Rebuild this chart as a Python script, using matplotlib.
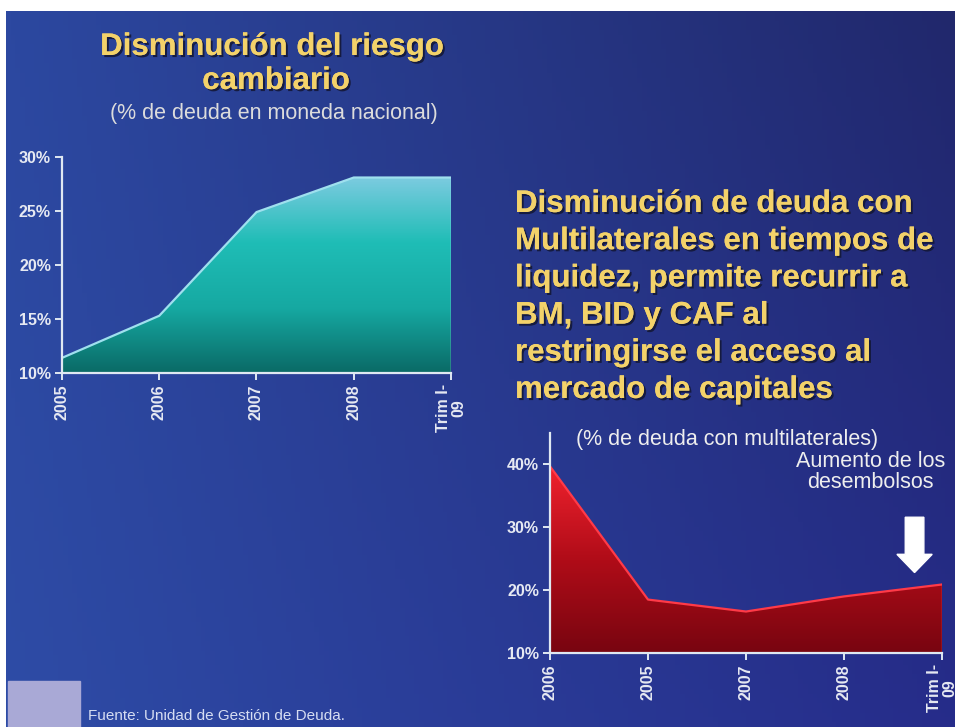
import numpy as np
import matplotlib
matplotlib.use("Agg")
import matplotlib.pyplot as plt
import matplotlib.patheffects as pe
from matplotlib.colors import LinearSegmentedColormap
from matplotlib.patches import FancyArrow, Rectangle

plt.rcParams['font.family'] = ['Liberation Sans', 'DejaVu Sans']

# ---------------------------------------------------------
# Data
# ---------------------------------------------------------
left_labels = ['2005', '2006', '2007', '2008', 'Trim I-\n09']
left_values = [11.4, 15.3, 24.9, 28.1, 28.1]   # % deuda en moneda nacional
left_yticks = [10, 15, 20, 25, 30]

right_labels = ['2006', '2005', '2007', '2008', 'Trim I-\n09']
right_values = [39.7, 18.5, 16.6, 19.0, 20.9]  # % deuda con multilaterales
right_yticks = [10, 20, 30, 40]

left_title = ['Disminución del riesgo', 'cambiario']
left_sub = '(% de deuda en moneda nacional)'
right_title = ['Disminución de deuda con',
               'Multilaterales en tiempos de',
               'liquidez, permite recurrir a',
               'BM, BID y CAF al',
               'restringirse el acceso al',
               'mercado de capitales']
right_sub = '(% de deuda con multilaterales)'
arrow_note = 'Aumento de los\ndesembolsos'
source = 'Fuente: Unidad de Gestión de Deuda.'

W, H = 958, 727
GOLD = '#f3d26a'
AXC = '#dfe8f2'

fig = plt.figure(figsize=(W / 100, H / 100), dpi=100)
fig.patch.set_facecolor('white')

# ---------------------------------------------------------
# Background gradient (slide)
# ---------------------------------------------------------
bg = fig.add_axes([0, 0, 1, 1], zorder=-5)
bg.set_xlim(0, W)
bg.set_ylim(0, H)
bg.axis('off')
tl = np.array([44, 72, 160]) / 255
tr = np.array([33, 40, 108]) / 255
bl = np.array([46, 76, 166]) / 255
br = np.array([38, 44, 138]) / 255
u = np.linspace(0, 1, 200)[None, :, None]
v = np.linspace(0, 1, 150)[:, None, None]
img = (1 - v) * ((1 - u) * tl + u * tr) + v * ((1 - u) * bl + u * br)
bg.imshow(img, extent=[6, W - 3, 0, H - 11], aspect='auto', origin='upper')
bg.add_patch(Rectangle((8, 0), 72, 46, color='#a9a9d6', zorder=3))
bg.text(88, 11, source, color='#d6ddf2', fontsize=11, va='center')

shadow = [pe.withSimplePatchShadow(offset=(1.5, -1.5), shadow_rgbFace='#141838', alpha=0.9),
          pe.Normal()]


def gradient_area(ax, y, colors, base, line_color):
    x = np.arange(len(y))
    poly = ax.fill_between(x, y, base, color='none', lw=0)
    path = poly.get_paths()[0]
    cmap = LinearSegmentedColormap.from_list('g', colors)
    grad = np.linspace(0, 1, 256).reshape(-1, 1)
    im = ax.imshow(grad, cmap=cmap, aspect='auto', origin='lower',
                   extent=[x[0], x[-1], base, max(y)], zorder=1)
    im.set_clip_path(path, ax.transData)
    ax.plot(x, y, color=line_color, lw=1.6, zorder=2)
    ax.plot([x[-1], x[-1]], [base, y[-1]], color=line_color, lw=1.0, zorder=2)


def style_axes(ax, labels, yticks):
    ax.set_facecolor('none')
    for s in ['top', 'right']:
        ax.spines[s].set_visible(False)
    for s in ['left', 'bottom']:
        ax.spines[s].set_color(AXC)
        ax.spines[s].set_linewidth(1.6)
        ax.spines[s].set_zorder(3)
    ax.set_xticks(range(len(labels)))
    ax.set_xticklabels(labels, rotation=90, va='top', ha='center', linespacing=1.0)
    ax.set_yticks(yticks)
    ax.set_yticklabels([f'{t}%' for t in yticks])
    ax.tick_params(colors=AXC, length=5, width=1.4, direction='out', pad=3)
    for t in ax.get_xticklabels() + ax.get_yticklabels():
        t.set_color('#e6e9f2')
        t.set_fontweight('bold')
        t.set_fontsize(11.5)
    ax.set_xlim(0, len(labels) - 1)


# ---------------------------------------------------------
# Left chart
# ---------------------------------------------------------
ax1 = fig.add_axes([62 / W, 1 - 373 / H, 389 / W, 216 / H])
gradient_area(ax1, left_values, ['#0a6a66', '#16a9a2', '#1fbdb6', '#7ccbe0'], 10, '#9fe0ee')
style_axes(ax1, left_labels, left_yticks)
ax1.set_ylim(10, 30)

fig.text(272 / W, 1 - 47 / H, left_title[0], color=GOLD, fontsize=22.5, fontweight='bold',
         ha='center', va='center', path_effects=shadow)
fig.text(276 / W, 1 - 81 / H, left_title[1], color=GOLD, fontsize=22.5, fontweight='bold',
         ha='center', va='center', path_effects=shadow)
fig.text(274 / W, 1 - 113 / H, left_sub, color='#dcdcdc', fontsize=15.5,
         ha='center', va='center')

# ---------------------------------------------------------
# Right chart
# ---------------------------------------------------------
ax2 = fig.add_axes([550 / W, 1 - 653 / H, 392 / W, 220 / H])
gradient_area(ax2, right_values, ['#780510', '#b00c18', '#f0222e'], 10, '#ff3a48')
style_axes(ax2, right_labels, right_yticks)
ax2.set_ylim(10, 45)

ax2.text(0.27, 44.0, right_sub, color='#eeeeee', fontsize=15.5, ha='left', va='center')
ax2.text(3.27, 42.2, arrow_note, color='#eeeeee', fontsize=15.5, ha='center', va='top',
         linespacing=1.0)
ax2.add_patch(FancyArrow(3.72, 31.6, 0, -8.8, width=0.19, head_width=0.36, head_length=2.9,
                         length_includes_head=True, color='white', zorder=4))

for i, line in enumerate(right_title):
    fig.text(515 / W, 1 - (204 + i * 37.2) / H, line, color=GOLD, fontsize=22.5,
             fontweight='bold', ha='left', va='center', path_effects=shadow)

fig.savefig('out.png', dpi=100, facecolor=fig.get_facecolor())
